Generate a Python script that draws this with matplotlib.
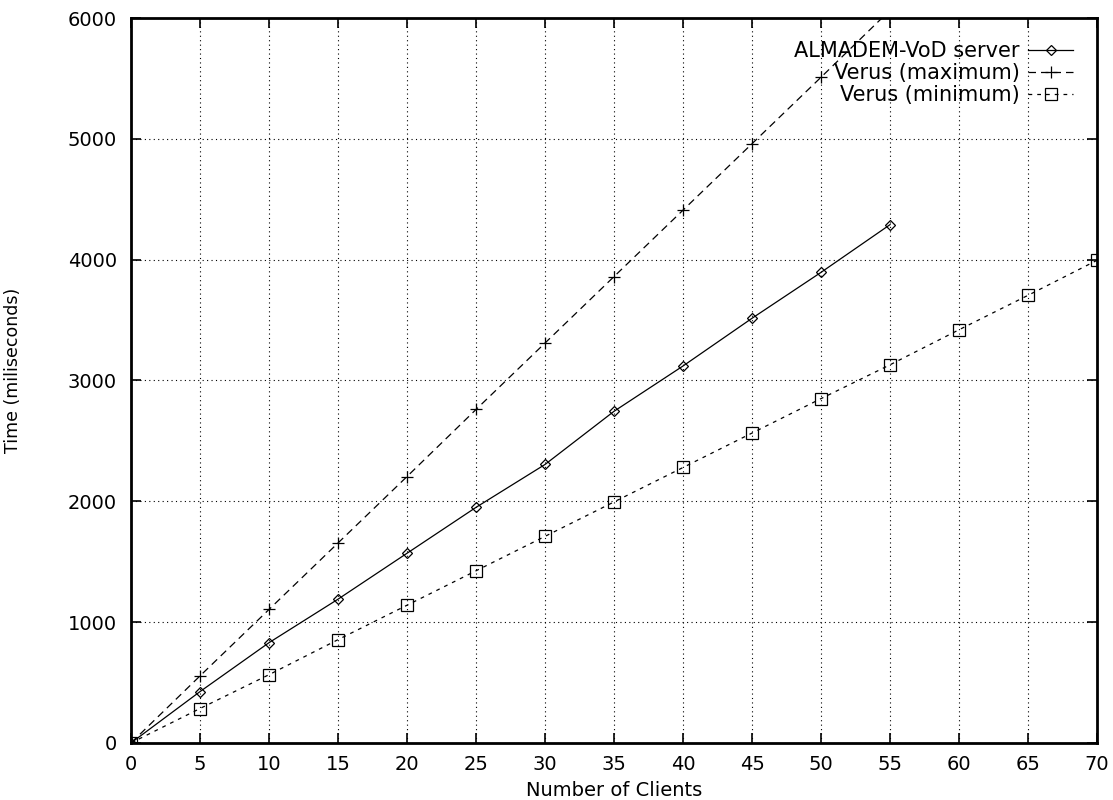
import numpy as np
import matplotlib
matplotlib.use('Agg')
import matplotlib.pyplot as plt

plt.rcParams['font.family'] = ['DejaVu Sans']

# number of clients
clients_almadem = [0, 5, 10, 15, 20, 25, 30, 35, 40, 45, 50, 55]
time_almadem = [0, 425, 830, 1190, 1570, 1950, 2305, 2745, 3120, 3515, 3895, 4290]

clients_vmax = [0, 5, 10, 15, 20, 25, 30, 35, 40, 45, 50, 55]
time_vmax = [0, 555, 1105, 1655, 2205, 2760, 3310, 3860, 4410, 4960, 5510, 6065]

clients_vmin = [0, 5, 10, 15, 20, 25, 30, 35, 40, 45, 50, 55, 60, 65, 70]
time_vmin = [0, 285, 565, 855, 1140, 1425, 1710, 1995, 2280, 2565, 2850, 3130, 3420, 3705, 3995]

fig = plt.figure(figsize=(11.13, 8), dpi=100)
ax = fig.add_axes([0.1177, 0.0713, 0.868, 0.9062])

ax.plot(clients_almadem, time_almadem, '-', color='k', linewidth=0.9,
        marker='D', markersize=5, markerfacecolor='none', markeredgecolor='k',
        markeredgewidth=0.9, label='ALMADEM-VoD server')
ax.plot(clients_vmax, time_vmax, color='k', linewidth=0.9, linestyle=(0, (6, 4)),
        marker='+', markersize=8, markeredgewidth=0.9, label='Verus (maximum)')
ax.plot(clients_vmin, time_vmin, color='k', linewidth=0.9, linestyle=(0, (3, 4)),
        marker='s', markersize=8, markerfacecolor='none', markeredgecolor='k',
        markeredgewidth=0.9, label='Verus (minimum)')

ax.set_xlim(0, 70)
ax.set_ylim(0, 6000)
ax.set_xticks(np.arange(0, 71, 5))
ax.set_yticks(np.arange(0, 6001, 1000))
ax.grid(True, color='k', linestyle=(0, (1, 3)), linewidth=0.8)
ax.tick_params(axis='both', direction='in', length=7, width=1.2, labelsize=14,
               top=True, right=True)
ax.tick_params(axis='y', pad=10)
ax.tick_params(axis='x', pad=9)
for s in ax.spines.values():
    s.set_linewidth(2)

ax.set_xlabel('Number of Clients', fontsize=14, labelpad=5)
ax.set_ylabel('Time (miliseconds)', fontsize=12.5)
ax.yaxis.set_label_coords(-0.113, 0.514)

leg = ax.legend(loc='upper right', bbox_to_anchor=(1 - 24 / 966, 1 - 23 / 725),
                frameon=False, markerfirst=False, fontsize=15,
                handlelength=2.15, labelspacing=0.1, borderpad=0,
                borderaxespad=0, handletextpad=0.4)
for t in leg.get_texts():
    t.set_ha('right')

fig.savefig('out.png', dpi=100)
